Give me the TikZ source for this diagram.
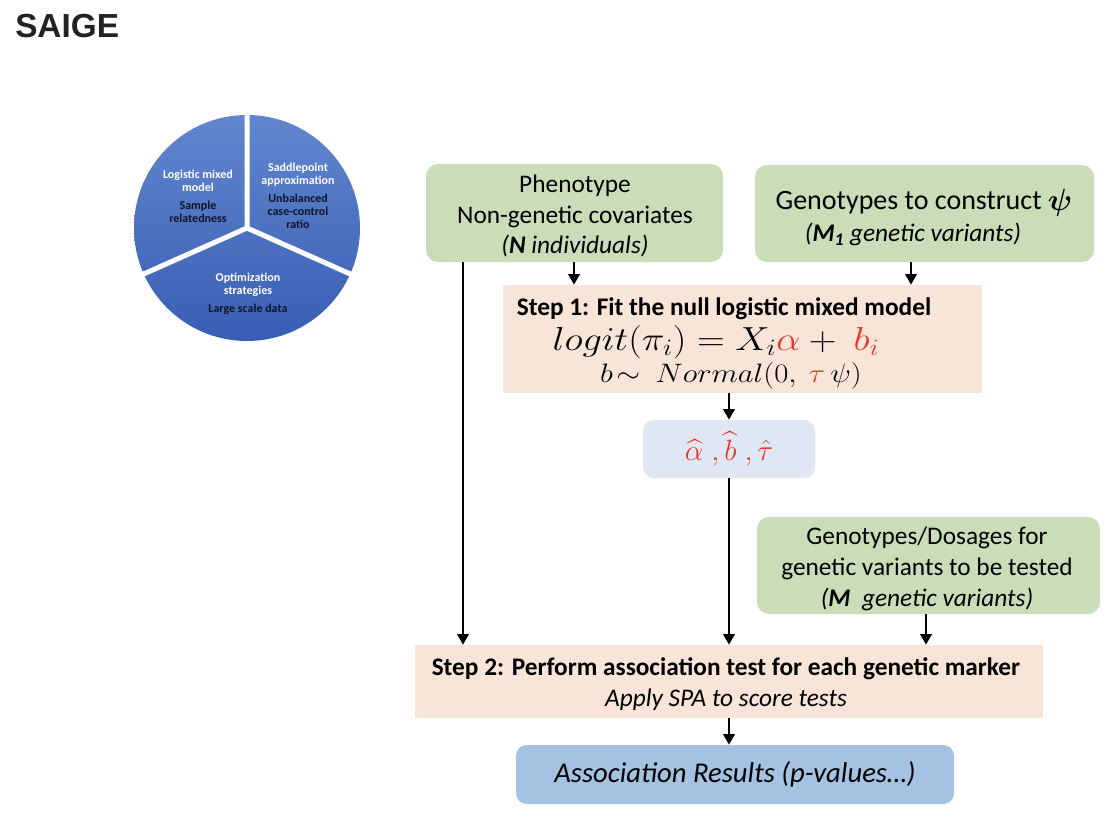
\RequirePackage{fix-cm}
\documentclass[tikz,border=0pt]{standalone}
\usepackage{amsmath}
\usepackage{bm}
\usepackage{graphicx}
\usepackage{fontspec}
\setmainfont{Carlito}
\newfontfamily\titlefont{Liberation Sans}
\usetikzlibrary{arrows.meta}
\definecolor{boxgreen}{RGB}{201,222,184}
\definecolor{peach}{RGB}{248,229,216}
\definecolor{hatblue}{RGB}{222,231,243}
\definecolor{resblue}{RGB}{164,194,226}
\definecolor{saigered}{RGB}{232,52,42}
\definecolor{titlegray}{RGB}{34,34,34}
\definecolor{pietop}{RGB}{98,134,206}
\definecolor{piebot}{RGB}{56,94,180}
\definecolor{pieink}{RGB}{15,20,40}
\begin{document}
\begin{tikzpicture}[x=0.75pt,y=-0.75pt,
  boxsize/.style 2 args={minimum width=#1*0.75pt, minimum height=#2*0.75pt},
  flowbox/.style={draw=none, inner sep=0pt, align=center},
  greenbox/.style={flowbox, fill=boxgreen, rounded corners=9pt},
  peachbox/.style={flowbox, fill=peach},
  boxtext/.style={align=center, inner sep=0pt, font=\fontsize{19}{23}\selectfont},
  steptext/.style={anchor=base, inner sep=0pt},
  pietxt/.style={align=center, inner sep=0pt, font=\bfseries\fontsize{9}{9.75}\selectfont, text=pieink},
  arr/.style={line width=2.2pt, -{Triangle[width=8.5pt,length=8pt]}}
]
\useasboundingbox (0,0) rectangle (1110,824);
\fill[white] (0,0) rectangle (1110,824);

% title
\node[anchor=west, inner sep=0pt, text=titlegray, font=\titlefont\bfseries\fontsize{25}{30}\selectfont] (title) at (15,26) {SAIGE};

% pie
\begin{scope}[shift={(247,228)}, y=0.75pt]
  \shade[top color=pietop, bottom color=piebot] (0,0) circle[radius=113];
  \draw[white, line width=3.75pt] (0,0) -- (90:116) (0,0) -- (204:116) (0,0) -- (336:116);
\end{scope}
\node[pietxt] (p1) at (198,196) {\textcolor{white}{Logistic mixed}\\\textcolor{white}{model}\\[4pt]Sample\\relatedness};
\node[pietxt] (p2) at (298,196) {\textcolor{white}{Saddlepoint}\\\textcolor{white}{approximation}\\[4pt]Unbalanced\\case-control\\ratio};
\node[pietxt] (p3) at (248,294) {\textcolor{white}{Optimization}\\\textcolor{white}{strategies}\\[4pt]Large scale data};

% boxes
\node[greenbox, boxsize={297}{98}] (pheno) at (574.5,213) {};
\node[boxtext] (pheno-t) at (575,216) {Phenotype\\Non-genetic covariates\\\textit{(\textbf{N} individuals)}};

\node[greenbox, boxsize={339}{97}] (geno1) at (924.5,213.5) {};
\node[boxtext] (geno1-t) at (924,217.5) {{\fontsize{21}{24}\selectfont Genotypes to construct \raisebox{-0.5pt}{\fontsize{23}{24}\selectfont$\bm{\psi}$}}\\[1pt]\textit{(\textbf{M\textsubscript{1}} genetic variants)}\hspace*{16.5pt}};

\node[peachbox, boxsize={479}{108}] (step1) at (742.5,339) {};
\node[steptext, font=\bfseries\fontsize{19}{23}\selectfont] (s1a) at (724,315) {Step 1: Fit the null logistic mixed model};
\node[steptext, font=\fontsize{25}{28}\selectfont] (s1b) at (716,350.5) {\scalebox{1.15}[1]{$logit(\pi_i) = X_i\textcolor{saigered}{\alpha} +\ \textcolor{saigered}{b_i}$}};
\node[steptext, font=\fontsize{20}{23}\selectfont] (s1c) at (731,382.5) {\scalebox{1.15}[1]{$b\!\sim\ Normal(0,\ \textcolor{saigered}{\tau}\,\psi)$}};

\node[flowbox, fill=hatblue, rounded corners=8pt, boxsize={172}{58}, font=\fontsize{22}{24}\selectfont] (hat) at (729,449) {\textcolor{saigered}{$\widehat{\alpha}\;,\widehat{b}\;,\hat{\tau}$}};

\node[greenbox, boxsize={343}{97}] (geno2) at (928.5,565.5) {};
\node[boxtext] (geno2-t) at (927,569) {Genotypes/Dosages for\\genetic variants to be tested\\\textit{(\textbf{M}\ \ genetic variants)}};

\node[peachbox, boxsize={628}{73}] (step2) at (729,681.5) {};
\node[boxtext, font=\fontsize{19}{23.5}\selectfont] (step2-t) at (726,684) {\textbf{Step 2: Perform association test for each genetic marker}\\\textit{Apply SPA to score tests}};

\node[flowbox, fill=resblue, rounded corners=8pt, boxsize={438}{59}, font=\fontsize{21.5}{24}\selectfont] (result) at (735,774.5) {\textit{Association Results (p-values…)}};

% connectors
\coordinate (cA) at (463,0);
\coordinate (cB) at (574,0);
\coordinate (cC) at (911,0);
\coordinate (cD) at (729,0);
\coordinate (cE) at (926,0);
\draw[arr] (pheno.south -| cA) -- (step2.north -| cA);
\draw[arr] (pheno.south -| cB) -- (step1.north -| cB);
\draw[arr] (geno1.south -| cC) -- (step1.north -| cC);
\draw[arr] (step1.south -| cD) -- (hat.north -| cD);
\draw[arr] (hat.south -| cD) -- (step2.north -| cD);
\draw[arr] (geno2.south -| cE) -- (step2.north -| cE);
\draw[arr] (step2.south -| cD) -- (result.north -| cD);
\end{tikzpicture}
\end{document}
